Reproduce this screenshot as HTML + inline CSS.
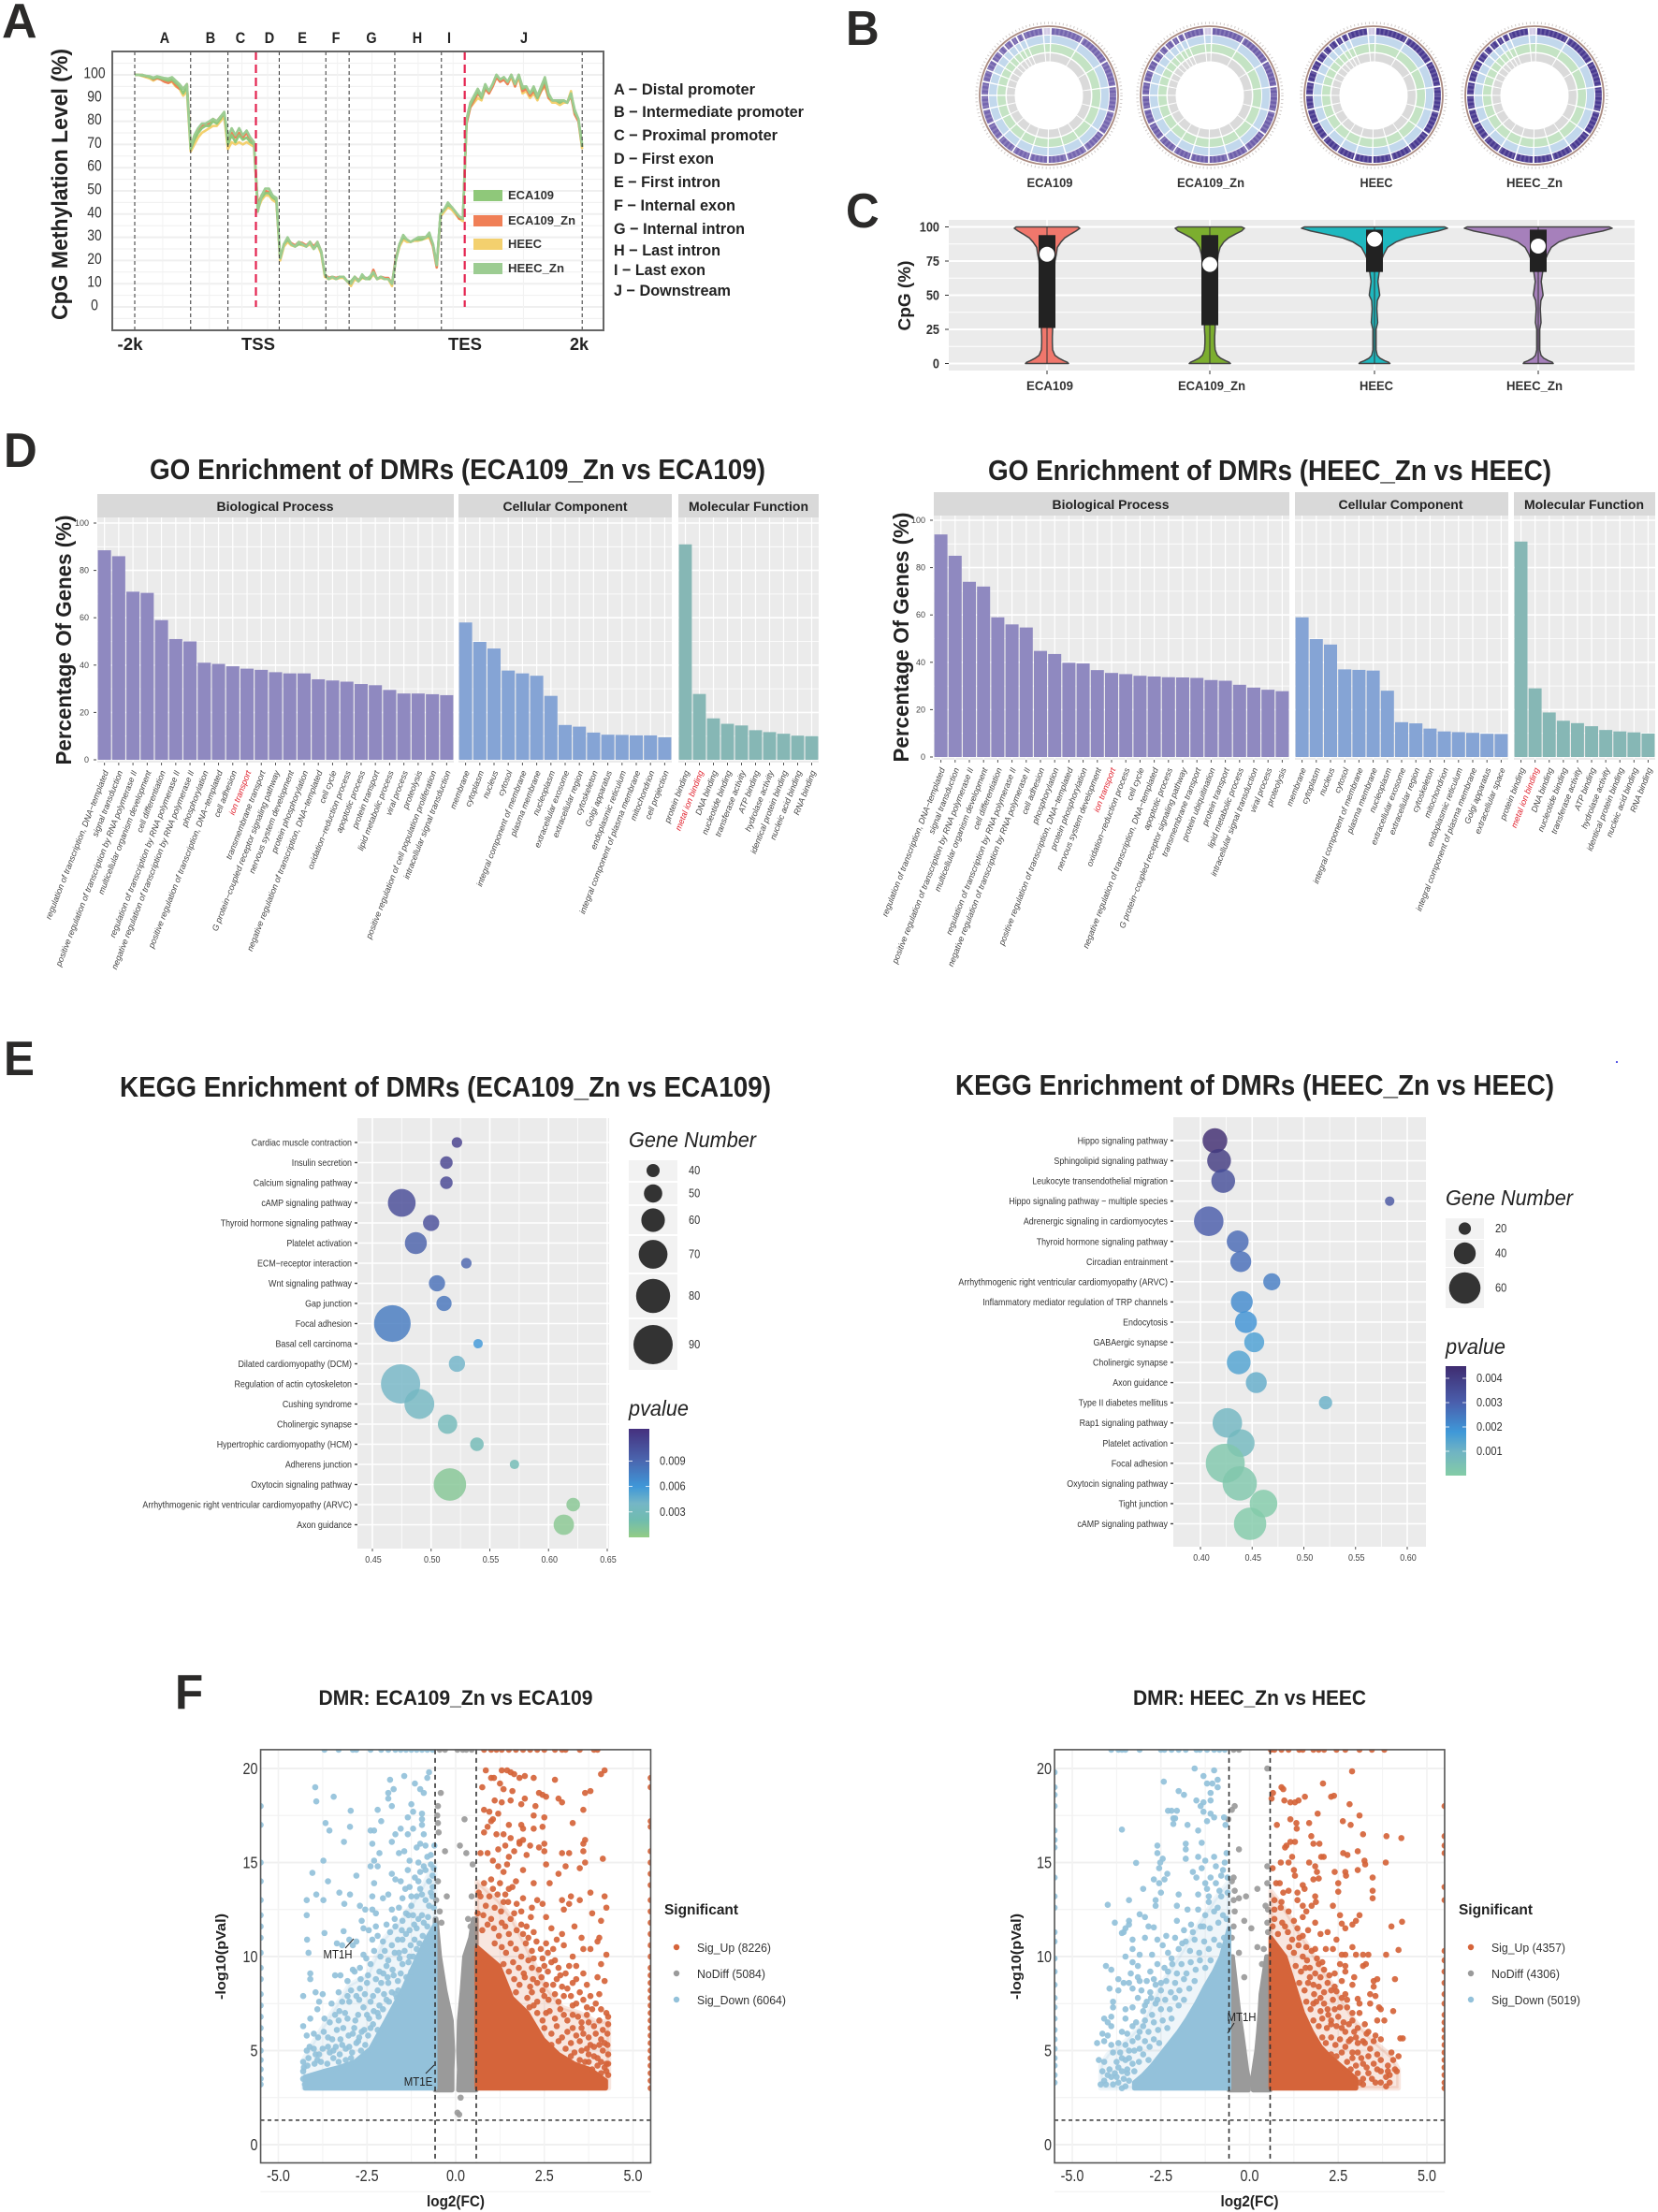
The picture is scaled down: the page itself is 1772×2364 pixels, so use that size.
<!DOCTYPE html>
<html lang="en">
<head>
<meta charset="utf-8">
<title>DNA methylation multi-panel figure</title>
<style>
html,body{margin:0;padding:0;background:#fff;}
svg{display:block;font-family:"Liberation Sans",sans-serif;}
</style>
</head>
<body>
<svg id="figure" xmlns="http://www.w3.org/2000/svg" width="1772" height="2364" viewBox="0 0 1772 2364">
<rect width="1772" height="2364" fill="#fff"/>
<defs id="defs"></defs>
<g id="panelA"></g>
<g id="panelB"></g>
<g id="panelC"></g>
<g id="panelD"></g>
<g id="panelE"></g>
<g id="panelF"></g>
</svg>
<script>
/* ---------- Panel A data ---------- */
const regionLetters=["A","B","C","D","E","F","G","H","I","J"];
const regionBoundaries=[0,15,25,32.5,38.75,51.25,57.5,69.75,82.25,88.5,120];
const regionNames=["A − Distal promoter","B − Intermediate promoter","C − Proximal promoter","D − First exon","E − First intron","F − Internal exon","G − Internal intron","H − Last intron","I − Last exon","J − Downstream"];
const methylationTicks=[0,10,20,30,40,50,60,70,80,90,100];
const seriesEca109=[100,100,99.7,99.5,99,98.3,99,98.5,98,97.5,98,96.5,95,92,95,68,72,75,77,78,78,80,79,81,84,70,74,71,74,72,73,71,70,43,47,49,49,47,46,21,27,29,27,26,27,27,26,28,25,27,24,14,12,13,12,13,13,11,11,13,11,13,12,12,15,12,13,12,12,10,20,27,30,29,28,29,29,29,30,31,27,18,40,42,44,43,41,39,38,80,87,90,93,90,95,93,96,100,98,99,97,100,96,100,94,95,92,94,90,94,98,91,89,89,88,89,88,92,84,81,69];
const seriesEca109Zn=[100,100,100,99.3,99.3,98,98.6,98,97,96.5,97.5,95.5,94,94,96,70,73,76,78,79,79,81,80,82,83,72,75,73,75,73,75,72,70,44,48,50,49.5,48,46,21,27,29,27.5,26.5,28,27.5,26.5,28,26,28,24,14,12.5,13,12.5,13,13,11,10,13,11.5,13,12.5,12,16,12,13,12.5,12.5,10,21,27,30,29,28,29,29,30,30,31,26,17,40,42,44,43,41,38,38,79,86,89,92,90,94,92,95,99,97,98,96,100,95,100,93,94,91,93,90,93,96,90,89,89,88,89,88,91,83,80,69];
const seriesHeec=[100,100,99.5,99,98.5,97.5,98.5,98,97,96.5,97,95,94,91,93,67,70,73,75,76,77,78,78,80,82,68,71,70,71,70,71,70,69,42,46,48,48,46,45,20,26,28,26.5,26,27,26.5,26,27,25,27,23,13,12,12.5,12,12.5,12.5,11,9,12,11,12.5,12,12,14,12,12.5,12,12,9,20,26,29,28,28,28.5,28.5,29,29.5,30,26,17,39,41,43,42,40,38,37,80,86,88,90,89,94,92,95,99,97,98,96,99,95,99,92,93,90,92,89,93,95,90,88,88,87,88,88,93,83,80,68];
const seriesHeecZn=[100,100,100,99.6,99.4,98.8,99.4,99,98.6,98.4,99,97.5,96,94,96,69,74,77,79,79,80,81,80,82,84,73,77,74,77,74,76,73,71,41,48,51,51,48,47,21,27,30,27,26,28,27,26,28,25,28,24,14,12,13,12,13,13,11,10,13,11,14,12,13,15,12,13,12,12,10,20,27,31,29,28,29,30,30,30,32,27,18,40,42,45,43,41,39,38,81,88,91,94,91,96,93,96,100,98,99,97,100,96,100,95,95,92,95,91,95,99,92,89,89,89,89,88,92,85,81,70];

/* ---------- Panel B data ---------- */
const circosSamples=["ECA109","ECA109_Zn","HEEC","HEEC_Zn"];
const chromosomeSizes=[249,243,198,190,181,171,159,146,141,135,135,133,115,107,102,90,81,78,59,63,48,51,155,59];
const circosTrackLevels=[0.45,0.5,0.78,0.78];

/* ---------- Panel C data ---------- */
const violinSamples=["ECA109","ECA109_Zn","HEEC","HEEC_Zn"];
const cpgTicks=[0,25,50,75,100];
const violinLevels=[100,99,97,95,92,89,85,80,75,70,60,50,46,40,30,25,20,15,10,6,4,2,1,0];
const densityEca109=[33,35,31,26,19,15,11,10,8.5,8,7.4,7,7,6.5,6.2,6,5.7,5.7,6,8.5,12.5,18,21.6,23];
const densityEca109Zn=[34,37,34,28,20,15,11,9,8,7.5,7,6.5,6.5,6,5.7,5.7,5.2,5.2,5.7,8,11.4,17,20.5,22];
const densityHeec=[75,78,68,54,34,23,14,10,7,5.7,3.6,5.6,3,2.5,3.4,1.7,1.7,1.7,1.7,3,5.7,11,15,16.5];
const densityHeecZn=[76,79,69,54,33,22,14,10,7,5.4,3.2,5.2,2.8,2.2,3,1.6,1.6,1.6,1.6,3,5.7,11,15,16];
const boxLow=[26,28,67,67];
const boxHigh=[94,94,98,98];
const medians=[80,72.5,91,86];

/* ---------- Panel D data ---------- */
const facetNames=["Biological Process","Cellular Component","Molecular Function"];
const goTicks=[0,20,40,60,80,100];
const goBpLabelsEca=["regulation of transcription, DNA−templated","signal transduction","positive regulation of transcription by RNA polymerase II","multicellular organism development","cell differentiation","regulation of transcription by RNA polymerase II","negative regulation of transcription by RNA polymerase II","phosphorylation","positive regulation of transcription, DNA−templated","cell adhesion","ion transport","transmembrane transport","G protein−coupled receptor signaling pathway","nervous system development","protein phosphorylation","negative regulation of transcription, DNA−templated","cell cycle","oxidation−reduction process","apoptotic process","protein transport","lipid metabolic process","viral process","proteolysis","positive regulation of cell population proliferation","intracellular signal transduction"];
const goBpValuesEca=[88.5,86,71,70.5,59,51,50,41,40.5,39.5,38.5,38,37,36.5,36.5,34,33.5,33,32,31.5,29.5,28,28,27.7,27.3];
const goCcLabelsEca=["membrane","cytoplasm","nucleus","cytosol","integral component of membrane","plasma membrane","nucleoplasm","extracellular exosome","extracellular region","cytoskeleton","Golgi apparatus","endoplasmic reticulum","integral component of plasma membrane","mitochondrion","cell projection"];
const goCcValuesEca=[58,49.8,47,37.7,36.5,35.5,27,14.7,14,11.5,10.6,10.5,10.3,10.3,9.5];
const goMfLabels=["protein binding","metal ion binding","DNA binding","nucleotide binding","transferase activity","ATP binding","hydrolase activity","identical protein binding","nucleic acid binding","RNA binding"];
const goMfValuesEca=[91,27.8,17.5,15.2,14.5,12.5,11.7,11,10.2,10];
const goBpLabelsHeec=["regulation of transcription, DNA−templated","signal transduction","positive regulation of transcription by RNA polymerase II","multicellular organism development","cell differentiation","regulation of transcription by RNA polymerase II","negative regulation of transcription by RNA polymerase II","cell adhesion","phosphorylation","positive regulation of transcription, DNA−templated","protein phosphorylation","nervous system development","ion transport","oxidation−reduction process","cell cycle","negative regulation of transcription, DNA−templated","apoptotic process","G protein−coupled receptor signaling pathway","transmembrane transport","protein ubiquitination","protein transport","lipid metabolic process","intracellular signal transduction","viral process","proteolysis"];
const goBpValuesHeec=[94,85,74,72,59,56,54.7,44.8,43.5,39.8,39.5,36.7,35.5,35,34.3,34,33.7,33.6,33.4,32.5,32.2,30.5,29.3,28.4,27.8];
const goCcLabelsHeec=["membrane","cytoplasm","nucleus","cytosol","integral component of membrane","plasma membrane","nucleoplasm","extracellular exosome","extracellular region","cytoskeleton","mitochondrion","endoplasmic reticulum","integral component of plasma membrane","Golgi apparatus","extracellular space"];
const goCcValuesHeec=[59,49.8,47.5,37,36.8,36.5,28,14.7,14.2,12,10.8,10.5,10.2,9.8,9.7];
const goMfValuesHeec=[91,29,18.8,15.3,14.3,13,11.4,10.8,10.4,9.9];

/* ---------- Panel E data ---------- */
const keggPathwaysEca=["Cardiac muscle contraction","Insulin secretion","Calcium signaling pathway","cAMP signaling pathway","Thyroid hormone signaling pathway","Platelet activation","ECM−receptor interaction","Wnt signaling pathway","Gap junction","Focal adhesion","Basal cell carcinoma","Dilated cardiomyopathy (DCM)","Regulation of actin cytoskeleton","Cushing syndrome","Cholinergic synapse","Hypertrophic cardiomyopathy (HCM)","Adherens junction","Oxytocin signaling pathway","Arrhythmogenic right ventricular cardiomyopathy (ARVC)","Axon guidance"];
const keggRatioEca=[0.522,0.513,0.513,0.475,0.5,0.487,0.53,0.505,0.511,0.467,0.54,0.522,0.474,0.49,0.514,0.539,0.571,0.516,0.621,0.613];
const keggGenesEca=[35,39,39,68,46,57,35,46,44,85,33,46,90,72,52,41,33,77,41,54];
const keggPvalEca=[0.0118,0.0115,0.0113,0.011,0.0108,0.0095,0.0092,0.0085,0.0082,0.0078,0.006,0.0042,0.004,0.0037,0.003,0.0027,0.0025,0.0008,0.0007,0.0006];
const keggXTicksEca=[0.45,0.5,0.55,0.6,0.65];
const geneLegendEca=[40,50,60,70,80,90];
const pvalLegendEca=[0.009,0.006,0.003];
const keggPathwaysHeec=["Hippo signaling pathway","Sphingolipid signaling pathway","Leukocyte transendothelial migration","Hippo signaling pathway − multiple species","Adrenergic signaling in cardiomyocytes","Thyroid hormone signaling pathway","Circadian entrainment","Arrhythmogenic right ventricular cardiomyopathy (ARVC)","Inflammatory mediator regulation of TRP channels","Endocytosis","GABAergic synapse","Cholinergic synapse","Axon guidance","Type II diabetes mellitus","Rap1 signaling pathway","Platelet activation","Focal adhesion","Oxytocin signaling pathway","Tight junction","cAMP signaling pathway"];
const keggRatioHeec=[0.414,0.418,0.422,0.583,0.408,0.436,0.439,0.469,0.44,0.444,0.452,0.437,0.454,0.521,0.426,0.439,0.424,0.438,0.461,0.448];
const keggGenesHeec=[46,44,44,14,56,40,38,30,40,40,36,44,38,22,56,52,76,66,52,62];
const keggPvalHeec=[0.0045,0.0041,0.0035,0.0033,0.0031,0.0028,0.0027,0.0024,0.0021,0.0019,0.0016,0.0015,0.0012,0.0011,0.0009,0.0008,0.0002,0.0002,0.0001,0.0001];
const keggXTicksHeec=[0.4,0.45,0.5,0.55,0.6];
const geneLegendHeec=[20,40,60];
const pvalLegendHeec=[0.004,0.003,0.002,0.001];
const colorValuesEca=[0,0.002,0.004,0.006,0.009,0.0128];
const colorHexEca=["#93cc85","#70bcae","#75b6c6","#3f97d8","#4a67b0","#45307e"];
const colorValuesHeec=[0,0.001,0.0018,0.003,0.0045];
const colorHexHeec=["#84cca6","#6fb3c4","#3f98d8","#4a5fad","#3f2c70"];

/* ---------- Panel F data ---------- */
const volcanoXTicks=[-5,-2.5,0,2.5,5];
const volcanoYTicks=[0,5,10,15,20];
const denseDownXEca=[-0.58,-0.8,-1.07,-1.5,-1.96,-2.4,-2.84,-3.3,-3.72,-4.25];
const denseDownTopEca=[11.7,11,10,8.2,6.6,5.1,4.4,4.1,3.9,3.6];
const semiDownXEca=[-0.58,-1,-1.5,-2,-2.5,-3,-3.5,-4,-4.3];
const semiDownTopEca=[15,13.5,12,11,9,8.5,7,5.5,4.5];
const denseUpXEca=[0.6,1.22,1.58,2.02,2.46,2.9,3.34,3.79,4.23];
const denseUpTopEca=[10.5,9.5,7.8,7,5.6,4.8,4.3,4,3.4];
const semiUpXEca=[0.6,1.2,1.6,2,2.5,3,3.5,4,4.32];
const semiUpTopEca=[14,13,12,10.5,8.5,7.3,7,6.5,6.6];
const denseGrayLevelsEca=[2.9,4,5,6.6,8.2,10,11,12];
const denseGrayLeftEca=[-0.1,-0.1,-0.08,-0.12,-0.3,-0.45,-0.5,-0.55];
const denseGrayRightEca=[0.08,0.1,0.08,0.1,0.18,0.25,0.42,0.5];
const pointsDownEca=[[-3.96,19],[-3.93,18.25],[-3.44,18.5],[-2.96,17.75],[-3.67,17.1],[-3.56,16.7],[-2.98,16.9],[-3.15,16.1],[-3.73,15.1],[-4.04,14.45],[-3.6,14],[-2.8,14.3],[-3.93,13.3],[-4.2,13],[-3.73,13],[-3.28,13.4],[-2.98,13.3],[-3.14,12.8],[-4.2,12.2],[-2.7,12.7],[-2.65,11.9],[-2.55,12.5],[-1.85,19.4],[-1.45,19.6],[-0.75,19.8],[-0.8,19.5],[-1.15,19.2],[-1.75,18.9],[-1.9,18.7],[-1.9,18.4],[-1,18.9],[-0.9,18.7],[-1.25,18.1],[-1.8,18],[-2.2,17.8],[-1.2,17.7],[-0.95,17.6],[-0.95,17.3],[-1.35,17.4],[-2.1,17.2],[-0.95,17],[-1.55,16.8],[-1.2,16.8],[-1.35,16.5],[-2.4,16.7],[-2.3,16.7],[-0.9,16.5],[-1.7,16.5],[-1.8,16.1],[-2.35,16],[-1,16],[-1.1,15.8],[-0.85,15.9],[-2.15,15.5],[-1.45,15.6],[-1.6,15.5],[-2.3,15.1],[-2.2,14.8],[-2.4,14.8],[-1.3,15.1],[-1.05,15],[-0.9,14.8],[-0.7,14.9],[-1,14.5],[-1.8,14.4],[-1.7,14.1],[-1.55,14],[-2.3,13.9],[-1.3,13.7],[-1,13.6],[-0.75,14],[-0.65,14.3],[-2.35,13.2],[-2.05,13.1],[-1.9,13.3],[-1.5,13.1],[-1.1,13.2],[-0.85,13],[-2.35,12.5],[-2.25,12.3],[-1.8,12.5],[-1.6,12.6],[-1.25,12.7],[-0.95,12.2],[-0.75,12.7],[-1.2,12.2],[-1.4,12.3],[-0.7,13.4],[-0.8,15.3],[-1.15,14.2],[-1.35,14.6],[-3.7,11.25],[-4.19,10.9],[-4.15,10.2],[-3.16,11.35],[-3.35,10.7],[-2.8,10.8],[-2.6,11.5],[-2.45,11.4],[-2.25,11.6],[-1.95,11.7],[-1.7,11.6],[-1.5,11.9],[-2.35,10.9],[-2.2,11.1],[-2,10.3],[-1.8,10.6],[-2.6,10.1],[-1.6,10.2],[-3.2,10.6],[-3,10.9],[-2.9,10.6],[-1.3,11.4],[-1.1,11.5],[-1.5,10.9],[-4.1,9.1],[-4.1,8.8],[-3.4,9],[-3.25,9],[-2.85,9.2],[-2.7,9.4],[-2.4,9.6],[-2.15,9.2],[-1.95,9.5],[-1.75,9],[-1.5,9.6],[-1.3,10],[-3.95,8.1],[-4.3,7.9],[-3.75,8],[-3.05,8.7],[-2.95,8.2],[-2.7,8.3],[-2.5,8.6],[-2.1,8.6],[-1.9,8.6],[-3.85,7.6],[-3.5,7.5],[-3.2,7.6],[-3,7.6],[-2.8,7.9],[-2.4,7.6],[-2.15,7.4],[-1.95,7.7],[-1.7,8],[-1.55,7.8],[-4.3,6.3],[-4.1,6.7],[-3.9,7.2],[-3.7,6.7],[-3.4,6.9],[-3.3,6.6],[-3.05,6.7],[-2.75,6.9],[-2.5,6.9],[-2.2,7],[-4.2,5.8],[-4,5.9],[-3.6,5.7],[-3.35,6.1],[-3.25,5.6],[-2.9,5.9],[-2.65,6],[-2.4,6.2],[-4.2,5],[-4,5.1],[-3.85,4.8],[-3.6,5.2],[-3.45,5],[-3.2,5.3],[-3,5.2],[-2.75,5.5],[-4.3,4.4],[-4.25,3.2],[-4.15,4.6],[-3.9,4.5],[-4.3,3.5]];
const fillDownEca=[[-0.62,12.6],[-0.78,12.1],[-0.9,11.8],[-1.05,12],[-1.17,11.7],[-1.33,12.2],[-1.52,11.4],[-1.72,12],[-0.66,13.2],[-0.8,11.6],[-0.93,11.1],[-1.02,10.7],[-1.16,10.9],[-1.27,10.6],[-1.4,11.2],[-1.63,10.9],[-1.85,11.3],[-2.05,10.8],[-1.1,10.4],[-1.2,10],[-1.33,9.7],[-1.44,10.3],[-1.58,9.9],[-1.72,10.2],[-1.9,9.8],[-2.12,10],[-2.3,10.3],[-2.52,9.9],[-1.25,9.2],[-1.39,8.9],[-1.55,9.1],[-1.63,8.7],[-1.78,9.3],[-1.92,8.9],[-2.04,9.1],[-2.25,8.8],[-2.47,9],[-2.68,8.8],[-2.9,9.3],[-1.62,8.2],[-1.66,7.8],[-1.8,8.1],[-1.88,7.6],[-2.02,8],[-2.2,8.2],[-2.33,7.9],[-2.56,8],[-2.72,7.7],[-3.05,7.9],[-3.3,8.1],[-2.05,7.2],[-2.17,6.8],[-2.31,7.1],[-2.44,6.7],[-2.6,7.3],[-2.83,6.6],[-3.12,7],[-3.28,7.1],[-3.55,6.5],[-2.2,6.1],[-2.33,6.4],[-2.47,5.8],[-2.58,6.1],[-2.72,5.7],[-2.86,6.2],[-3.02,5.8],[-3.17,6.2],[-3.48,5.6],[-3.72,6],[-3.88,5.7],[-2.55,5.3],[-2.67,5],[-2.8,5.4],[-2.92,4.9],[-3.1,5.1],[-3.27,4.8],[-3.38,5.2],[-3.55,4.9],[-3.75,5.1],[-3.95,4.8],[-4.12,5.2],[-2.95,4.6],[-3.1,4.5],[-3.3,4.4],[-3.45,4.6],[-3.62,4.3],[-3.8,4.4],[-3.98,4.3],[-4.18,4.2],[-4.28,4.1],[-4.3,3.9],[-0.7,15.4],[-0.85,14.6],[-1.05,14],[-1.25,13.2],[-1.42,13.6],[-0.62,14.7],[-0.6,15.9],[-0.95,13.3],[-0.65,13.7]];
const pointsUpEca=[[0.85,19.9],[1,19.5],[1.08,19.5],[1.3,19.9],[1.45,19.9],[1.55,19.8],[1.65,19.7],[1.8,19.5],[1.95,19.6],[2.2,19.5],[2.8,19.4],[4.1,19.7],[4.2,19.9],[0.75,19],[1.25,19.2],[1.35,18.9],[1.6,18.8],[1.95,18.4],[2.35,18.7],[2.45,18.6],[2.55,18.5],[2.9,18.4],[3,18.2],[3.65,18.7],[3.8,18.8],[1.1,18.3],[1.3,18.2],[1.55,18.3],[1.85,18.1],[2.25,18],[0.8,17.8],[0.95,17.7],[1.05,17.3],[1.2,17.6],[2.2,17.5],[3.6,17.8],[2.5,17.4],[3.3,17.1],[0.9,16.9],[1,17.2],[1.5,17],[1.85,17],[1.9,16.8],[2.2,16.8],[0.8,16.6],[1.15,16.5],[1.35,16.5],[1.55,16.3],[2.45,16.9],[1.8,16.1],[1.9,16.2],[2.1,15.9],[2.5,16],[3.6,16],[3.65,16.2],[0.7,15.5],[0.9,15.5],[1.05,15.1],[1.2,15.7],[1.4,15.9],[1.5,15.3],[1.65,15.6],[1.8,16],[2.35,15.8],[2.5,15.6],[3,15.5],[3.2,15.5],[3.6,15.6],[4.15,15.2],[2,15.4],[1.2,14.8],[1.35,14.5],[1.45,14.9],[1.9,14.6],[2.55,14.9],[2.9,14.4],[3.1,14.8],[3.5,14.7],[3.65,15],[0.8,13.9],[1,14.1],[1.25,13.9],[1.5,13.6],[1.7,14],[2.2,13.9],[2.65,13.9],[0.7,13.2],[1.05,13.6],[1.4,13.3],[1.6,13.7],[1.9,13.1],[2.3,13],[3,13],[3.25,13.2],[3.5,13],[3.8,13.4],[4.2,13.2],[0.85,12.7],[1.1,12.6],[1.35,12.9],[1.65,12.3],[1.85,12.4],[2.15,12.6],[2.45,12.8],[3.05,12.5],[3.2,12.8],[4.25,12.6],[3.85,12.3],[1,12],[1.3,11.8],[1.55,12],[2,11.6],[2.55,12.1],[3,11.2],[3.35,11.6],[3.55,11],[4.1,11.9],[4.05,11],[1.9,11.2],[2.2,11.3],[2.7,11.5],[2.85,10.9],[3.6,10.4],[4,10.8],[2.4,10.4],[2.6,10.2],[3.05,10.6],[3.3,10],[3.8,10.4],[4.25,10.1],[2.45,9.9],[2.8,9.8],[3.2,9.5],[3.6,9.1],[4.1,9.6],[2.15,9.4],[2.6,9.2],[2.95,9],[3.4,8.8],[4,8.9],[4.2,8.7],[2.3,8.6],[2.75,8.5],[3.15,8.3],[3.5,8.1],[3.8,7.9],[4.05,8],[2.5,7.9],[2.9,7.6],[3.3,7.4],[3.6,7.7],[3.85,7.2],[4.25,7],[4.3,6.8],[2.2,7.4],[2.65,7.1],[3.05,6.9],[3.45,6.8],[3.75,6.5],[4.15,6.1],[4.1,5.6],[4.2,5.4],[3.3,6.2],[3.6,5.9],[3.9,5.2],[4.15,5],[4.3,4.8],[3.5,5.5],[3.75,4.8],[4,4.6],[4.25,4.3],[4.2,4.1],[3.65,4.4],[3.85,4],[4.1,3.8],[4.3,3.7]];
const fillUpEca=[[0.65,13.4],[0.78,12.2],[0.95,13.2],[1.18,13.3],[1.28,12.4],[1.48,12.9],[1.72,12.8],[0.62,12.3],[0.75,11.4],[0.9,11.7],[1.08,11.5],[1.22,11.1],[1.4,11.6],[1.5,11.2],[1.72,11.4],[1.85,11.7],[2.05,11],[2.12,12.1],[1.1,10.7],[1.3,10.5],[1.42,10.2],[1.55,10.7],[1.7,10.4],[1.85,10],[1.98,10.7],[2.15,10.3],[2.28,10.8],[2.55,10.7],[2.75,10.4],[1.35,9.6],[1.5,9.2],[1.62,9.7],[1.78,9.4],[1.92,9.1],[2.05,9.8],[2.2,9.9],[2.35,9.3],[2.5,9.5],[2.7,9.7],[2.9,9.4],[3.1,9.1],[3.4,9.5],[1.65,8.8],[1.8,8.5],[1.95,8.9],[2.1,8.4],[2.18,8.8],[2.42,8.9],[2.55,8.5],[2.85,8.8],[3,8.4],[3.3,8.6],[3.7,8.5],[1.7,8.1],[2.02,7.8],[2.15,8.1],[2.3,7.6],[2.45,8.2],[2.62,7.7],[2.8,8],[3.05,7.9],[3.25,7.9],[3.4,7.5],[3.7,7.3],[3.95,7.5],[4.1,7.2],[2.08,7.3],[2.3,7],[2.45,6.6],[2.55,7],[2.8,6.7],[2.95,7.2],[3.15,6.6],[3.3,6.9],[3.55,6.5],[3.7,6.9],[3.9,6.3],[4.05,6.6],[4.3,6.4],[2.5,6.2],[2.7,5.9],[2.85,6.3],[3,5.7],[3.15,6],[3.4,5.8],[3.55,6.2],[3.75,5.7],[3.95,5.9],[3.8,5.3],[4.05,5.3],[4.28,5.9],[2.7,5.3],[2.9,5.5],[3.1,5.1],[3.25,5.4],[3.35,4.9],[3.55,5],[3.7,5.1],[3.9,4.7],[4.1,4.4],[4.28,5.3],[3.25,4.7],[3.5,4.5],[3.75,4.4],[4.3,4.3],[4,4.2],[4.25,3.9]];
const pointsGrayEca=[[-0.42,18.7],[-0.5,18],[-0.52,17.5],[-0.5,17.1],[-0.48,16.6],[-0.3,15.6],[-0.5,14],[-0.55,13],[-0.25,13.2],[-0.45,12.4],[-0.4,11.8],[-0.55,11.6],[0.25,17.3],[0.12,15.9],[0.3,15.5],[0.48,14.9],[0.45,13.2],[0.35,12],[0.42,11.6],[0.45,10.3],[0.4,9.5],[0.05,1.7],[0.1,1.6],[0.14,2.5]];
const edgeDownEca=[18,17,15,14,13,12.2,11.6,11,10.2,9.4,8.8,8,7.4,6.8,6.2,5.6,5,4.5,4,3.5,3.2];
const edgeUpEca=[19.5,19,17.2,16.9,15.6,15,14.4,13.8,13,12.4,11.8,11.2,10.6,10,9.4,9,8.6,8.2,7.8,7.4,7,6.6,6.2,5.8,5.4,5,4.6,4.2,3.8,3.4,3];
const topDownEca=[-3.7,-3.3,-2.9,-2.8,-2.4,-2.1,-1.9,-1.7,-1.55,-1.4,-1.25,-1.1,-0.95,-0.8,-0.65];
const topGrayEca=[-0.45,-0.3,0.05,0.2,0.3,0.45];
const topUpEca=[0.8,1,1.15,1.3,1.5,1.7,1.9,2.1,2.3,2.5,2.8,3,3.1,3.5,3.9,4];
const denseDownXHeec=[-0.58,-0.8,-1,-1.25,-1.5,-1.75,-2,-2.25,-2.5,-2.75,-3,-3.25];
const denseDownTopHeec=[11.5,10,9.2,8.4,7.5,6.7,6,5.4,4.8,4.2,3.7,3.3];
const semiDownXHeec=[-0.58,-1,-1.5,-2,-2.5,-3,-3.5,-4,-4.2];
const semiDownTopHeec=[14,13,11.5,10,8.5,6.5,5.5,4.8,4.2];
const denseUpXHeec=[0.6,0.8,1,1.25,1.5,1.75,2,2.25,2.5,2.75,3];
const denseUpTopHeec=[11,10.5,10,8.5,7,6,5.2,4.7,4.3,3.9,3.5];
const semiUpXHeec=[0.6,1,1.5,2,2.5,3,3.5,4,4.2];
const semiUpTopHeec=[13.5,12.5,11,9.5,8,6.5,5.5,4.7,4];
const denseGrayLevelsHeec=[2.9,3.5,4,5,6,7,8,10];
const denseGrayLeftHeec=[-0.03,-0.03,-0.08,-0.15,-0.22,-0.3,-0.36,-0.48];
const denseGrayRightHeec=[0.1,0.08,0.12,0.2,0.25,0.29,0.32,0.48];
const pointsDownHeec=[[-1.55,20],[-1,19.9],[-1.3,19.6],[-2.42,19.3],[-0.9,19.4],[-1.2,19.2],[-1.05,19.2],[-0.9,19],[-1.1,18.7],[-2,18.8],[-1.85,18.6],[-1.5,18.3],[-1.3,18.2],[-1.1,18.3],[-1.38,18],[-2.3,17.75],[-2.2,17.75],[-2.05,17.75],[-1.3,17.7],[-1.1,17.6],[-1.2,17.2],[-1,17.4],[-0.72,17.4],[-0.68,17],[-2.15,17.35],[-2.1,17.35],[-2.15,17.05],[-1.75,17],[-1.45,16.7],[-3.6,16.75],[-1.8,15.2],[-2.6,15.9],[-2.6,15.5],[-2.45,15.2],[-2.52,15],[-1.8,15.7],[-1.8,16],[-1.35,16.05],[-1.45,15.3],[-1.25,15.1],[-1,15.3],[-1.35,14.7],[-0.95,14.8],[-3.2,14.98],[-2.55,14.7],[-2.32,14.4],[-1.6,14.5],[-1.5,14.2],[-1.1,14.2],[-0.8,14.3],[-0.75,14.6],[-2.7,14.1],[-2.55,13.9],[-2.4,14.1],[-1.25,13.9],[-0.95,13.9],[-3,13.6],[-2.5,13.4],[-2,13.3],[-1.45,13.3],[-1.15,13.2],[-0.8,13.2],[-3.4,13],[-2.65,13],[-4,12.75],[-2.65,12.7],[-2.05,12.7],[-1.75,12.5],[-1.45,12.5],[-0.9,12.6],[-3.1,12.25],[-2.95,12.1],[-3.5,11.5],[-3.4,11.9],[-3.4,11.7],[-3.8,11.8],[-2.85,11.6],[-2.7,11.55],[-2.05,11.9],[-1.85,11.4],[-1.65,11.7],[-1.3,11.6],[-3.6,11.25],[-3.55,11.3],[-3.3,10.9],[-2.95,11],[-2.6,10.9],[-2.35,11.1],[-2.1,11],[-1.8,10.8],[-3.3,10.4],[-2.45,10.6],[-3.5,10],[-3.1,10.1],[-2.75,10.1],[-2.3,10.2],[-2,10.4],[-4.05,9.5],[-3.9,9.3],[-3.3,9.7],[-3.15,9.5],[-2.8,9.2],[-2.6,9.6],[-2.3,9.2],[-3.35,9.1],[-3.15,8.9],[-3.7,8.8],[-3.55,8.6],[-3.4,8.6],[-3.1,8.7],[-2.9,8.7],[-2.65,8.5],[-3.95,8.3],[-3.7,8.2],[-3.3,8.3],[-3.05,8.2],[-2.8,8.1],[-2.5,8.2],[-3.85,7.6],[-3.85,7.3],[-3.5,7.2],[-3.15,7.8],[-2.9,7.6],[-2.6,7.7],[-3.3,7.3],[-3,7.1],[-2.75,6.9],[-4,6.5],[-3.9,6.8],[-4.1,6.7],[-3.9,6.3],[-3.5,6.7],[-3.2,6.5],[-2.95,6.6],[-4.15,5.9],[-4,5.8],[-3.6,6],[-3.45,5.9],[-3.1,6],[-4.3,5.4],[-4.1,5.5],[-3.9,5.3],[-3.7,5.4],[-3.5,5.3],[-3.3,5.5],[-3.85,4.9],[-3.65,4.9],[-3.4,5],[-4.25,4.5],[-4.1,4.4],[-3.75,4.4],[-3.5,4.5],[-4.15,3.9],[-3.95,4],[-3.7,4.1],[-3.45,4],[-4.1,3.4],[-3.9,3.6],[-3.7,3.3],[-3.55,3.5],[-4.05,3.2],[-3.85,3.2],[-3.6,3]];
const fillDownHeec=[[-0.62,13.4],[-0.75,12.2],[-0.88,11.8],[-1,12.4],[-1.12,11.5],[-1.25,12.2],[-1.38,11.6],[-0.65,12],[-0.72,11],[-0.85,10.6],[-1,10.9],[-1.15,10.4],[-1.28,10.8],[-1.42,10.2],[-1.55,10.9],[-1.68,10.3],[-1.9,10.7],[-1.1,9.8],[-1.25,9.4],[-1.4,9.8],[-1.52,9.3],[-1.66,9.7],[-1.78,9.1],[-1.92,9.6],[-2.05,9.1],[-2.18,9.6],[-2.4,9.4],[-1.55,8.7],[-1.7,8.3],[-1.85,8.8],[-1.98,8.2],[-2.1,8.6],[-2.22,8.1],[-2.35,8.7],[-2.5,8.6],[-2.7,8.8],[-1.85,7.7],[-2,7.4],[-2.1,7.8],[-2.25,7.2],[-2.38,7.7],[-2.5,7.2],[-2.65,7.5],[-2.78,7.8],[-2.95,7.4],[-2.2,6.7],[-2.32,6.2],[-2.45,6.6],[-2.58,6.1],[-2.7,6.5],[-2.85,6],[-3,6.3],[-3.15,5.7],[-3.3,6.3],[-2.55,5.4],[-2.7,5.6],[-2.82,5.2],[-2.95,5.5],[-3.1,5.1],[-3.25,5],[-3.4,4.6],[-3.6,4.6],[-2.85,4.5],[-3,4.8],[-3.12,4.4],[-3.3,4.3],[-3.45,3.8],[-3.6,3.9],[-3.8,3.8],[-3.25,3.9],[-3.4,3.4],[-3.5,3.1],[-3.75,3.6],[-4,3.7],[-4.2,3.2],[-0.62,14.2],[-0.7,15],[-0.65,15.5],[-0.85,13.5],[-1.15,12.9],[-1.6,11.3],[-1.2,13.6],[-2.2,9.9]];
const pointsUpHeec=[[2.89,19.85],[2.07,19.2],[0.9,19],[0.95,18.9],[0.66,18.7],[1.56,18.5],[2.3,18.5],[2.38,18.55],[2.82,18.1],[0.98,18.3],[1.15,18.2],[1.28,18.2],[1.38,18.3],[0.62,18.4],[3.1,17.5],[1.92,17.6],[2.63,17.2],[2.85,17],[0.77,17],[1.15,17.3],[1.32,17.1],[1.68,17.1],[1.33,16.8],[3.2,16.5],[3.86,16.4],[4.28,16.3],[1.74,16.4],[1.28,16.1],[1.04,15.9],[1.15,16.1],[1.8,16],[1.97,16],[1,15.8],[3.05,15.6],[2.09,15.3],[2.02,15.3],[2.64,15.5],[2.76,15.4],[1.2,15.3],[0.88,15],[1.1,15],[1.68,15],[1.85,14.8],[3.24,15.1],[3.26,14.9],[3.84,15],[0.65,14.7],[1.25,14.6],[1.9,14.5],[2.4,14.5],[2.7,14.5],[2.72,14.3],[3.05,14.6],[1.28,14.3],[3.47,14.2],[1.8,14.1],[1.95,14.15],[0.75,13.9],[0.85,13.9],[1.1,13.5],[1.5,13.8],[1.55,13.6],[1.35,13.4],[0.95,13.4],[2.5,13.9],[2.5,13.45],[3.47,13.5],[3.47,13.1],[0.7,13],[0.9,12.9],[1.35,13],[1.85,13.2],[1.87,12.9],[2.35,12.7],[1.5,12.7],[0.7,12.5],[0.88,12.6],[1.1,12.4],[1.6,12.4],[1.75,12.7],[1.5,12.1],[2.55,12.2],[3.1,12.2],[3,11.9],[2.6,11.75],[2.7,11.5],[2.9,11.7],[4.3,11.85],[4,11.6],[1,11.6],[1.25,11.9],[1.85,11.8],[2,11.2],[2.2,11.3],[2.35,10.4],[2.45,10.9],[2.9,10.5],[4.2,10.35],[1.4,11],[1.6,10.5],[1.85,10.4],[2.15,10.4],[2.6,10.1],[2.7,10.1],[3,10.1],[3.2,10.1],[3.35,10.1],[3.85,10.1],[2.05,9.7],[2.55,9.6],[2.7,9.5],[3.2,9.5],[3.28,9.6],[1.7,9.4],[2,8.9],[2.4,9.1],[2.7,9.2],[2.95,8.9],[1.8,8.5],[2.2,8.6],[2.6,8.7],[2.9,8.5],[3.5,8.7],[3.6,8.8],[4.1,8.8],[3.5,8.4],[2.3,8.2],[2.45,8.15],[2.7,8],[3.4,8],[3.55,7.9],[2,7.8],[2.35,7.7],[2.75,7.7],[3.05,7.75],[3.1,7.5],[3.4,7.5],[1.8,7.5],[2.2,7.2],[2.55,7.3],[3.65,7.3],[3.7,7.2],[4.05,7.1],[2.9,7],[3.1,7],[2.5,6.8],[2.3,6.6],[2.8,6.4],[3.05,6.2],[3.25,6.4],[3.6,6.6],[3.8,6.6],[2.6,6.2],[2.95,6],[3.3,5.9],[3.55,5.8],[3.7,5.6],[4.25,5.65],[4.32,5.65],[2.85,5.6],[3.05,5.4],[3.25,5.4],[3.5,5.5],[3.4,5.1],[3.6,4.8],[4,4.9],[4.05,4.5],[4.2,4.7],[2.9,4.9],[3.15,4.6],[3.7,4.5],[3.9,4.2],[3,4.2],[3.3,4.1],[3.6,4],[3.9,3.9],[4.1,4],[3.2,3.5],[3.45,3.5],[3.85,3.6],[3.95,3.3]];
const fillUpHeec=[[0.65,11.6],[0.8,11.2],[0.92,11.8],[1.08,11.3],[1.2,10.9],[1.35,11.5],[1.5,11.1],[1.65,11.4],[0.7,12],[1.12,10.5],[1.25,10.2],[1.38,10.6],[1.5,10],[1.62,9.8],[1.75,10.3],[1.9,9.9],[1.3,9.5],[1.45,9.2],[1.58,9.4],[1.7,8.9],[1.85,9.1],[1.95,9.6],[2.1,9.3],[2.25,9],[1.4,8.6],[1.55,8.2],[1.65,8.6],[1.82,8],[1.95,8.4],[2.1,8.1],[2.4,8.4],[1.6,7.6],[1.72,7.2],[1.88,7.6],[2,7.1],[2.1,7.5],[2.22,6.9],[2.4,7.2],[2.6,7.8],[2.75,7.3],[1.8,6.6],[1.95,6.3],[2.05,6.7],[2.18,6.2],[2.3,6.4],[2.45,6.3],[2.65,6.5],[2.7,6],[2.9,6.6],[2.05,5.7],[2.15,5.4],[2.3,5.7],[2.42,5.3],[2.55,5.6],[2.7,5.2],[2.8,5.5],[3,5.7],[3.2,5.5],[3.35,6],[2.3,4.8],[2.45,4.7],[2.6,4.9],[2.75,4.4],[2.9,4.6],[3.05,4.9],[3.2,4.3],[3.35,4.7],[3.5,4.3],[3.7,3.9],[2.85,4],[3.05,3.8],[3.2,3.2],[3.35,3.8],[3.55,3.3],[3.7,3.3],[3.1,3.3],[3.85,3.1],[3.95,3.7],[4.15,3.9]];
const pointsGrayHeec=[[-0.42,18],[-0.5,17.8],[-0.6,17.3],[-0.3,15.7],[-0.45,14.2],[-0.5,14],[-0.42,13.5],[-0.45,13],[-0.3,13.1],[-0.1,13.2],[-0.42,12.4],[-0.15,11.9],[0.22,13.6],[0.5,13.9],[0.45,12.7],[0.52,12.5],[0.5,11.8],[0.52,11.3],[0.05,11.5],[-0.45,11.6],[-0.5,11],[0.22,10.5],[0.4,10.4],[-0.3,10.2],[0.35,9.6],[-0.15,8.9],[0.5,14.8],[0.5,20]];
const edgeDownHeec=[19.8,19,18.6,18,16.7,16.2,15.8,14.2,13.2,12.6,11.3,10.8,9.9,9.2,8.5,7.8,7.3,6.7,6.1,5.6,5.1,4.6,4.2,3.7,3.3];
const edgeUpHeec=[18,16.4,15.9,15.5,13.7,13,10.3,9.8,9.2,8.6,8,7.5,6.9,6.5,6.1,5.7,5.3,4.9,4.5,4.1,3.7,3.3,3];
const topDownHeec=[-3.9,-3.7,-3.6,-3.5,-3.1,-2.5,-2.4,-2.2,-2,-1.8,-1.5,-1.4,-1.2,-1,-0.85,-0.7];
const topGrayHeec=[-0.45,-0.3];
const topUpHeec=[0.6,0.7,0.9,1.1,1.4,1.5,1.8,1.95,2.1,2.45,2.7,3.1,3.45,3.8];

/* ---------- Helpers ---------- */
const NS="http://www.w3.org/2000/svg";
const $=id=>document.getElementById(id);
function el(tag,name,attrs,parent){
  const e=document.createElementNS(NS,tag);
  for(const k in attrs)e.setAttribute(k,attrs[k]);
  
  
  parent.appendChild(e);
  return e;
}
function txt(parent,name,s,x,y,o){
  o=o||{};
  const a={fill:o.fill||"#222","font-size":o.size||12,"text-anchor":o.anchor||"start"};
  if(o.weight)a["font-weight"]=o.weight;
  if(o.style)a["font-style"]=o.style;
  if(o.len){a.textLength=o.len;a.lengthAdjust="spacingAndGlyphs";}
  a.transform="translate("+x+" "+y+")"+(o.rot?" rotate("+o.rot+")":"")+(o.sx?" scale("+o.sx+" 1)":"");
  const t=el("text",name,a,parent);
  t.textContent=s;
  return t;
}
const slug=s=>String(s).toLowerCase().replace(/[^a-z0-9]+/g,"-").replace(/^-|-$/g,"");
function line(p,name,x1,y1,x2,y2,stroke,w,dash){
  const a={x1:x1,y1:y1,x2:x2,y2:y2,stroke:stroke,"stroke-width":w};
  if(dash)a["stroke-dasharray"]=dash;
  return el("line",name,a,p);
}
function panelLetter(p,s,x,y,sx){
  txt(p,"panel-label-"+s.toLowerCase(),s,x,y,{size:52,weight:"bold",fill:"#2b2a29",sx:sx||1});
}

/* ---------- Panel A ---------- */
(function(){
  const p=$("panelA");
  panelLetter(p,"A",2,40,1);
  const L=120,R=645,T=55,B=353;
  const xA=i=>144+i*3.985, yA=v=>328-2.48*v;
  el("rect","plot-background",{x:L,y:T,width:R-L,height:B-T,fill:"#fff"},p);
  for(let v=-10;v<=110;v+=5)line(p,"gridline-y",L,yA(v),R,yA(v),"#efefef",v%10===0?2:1);
  regionBoundaries.forEach((b,i)=>{
    if(i<regionBoundaries.length-1){
      const m=xA((b+regionBoundaries[i+1])/2);
      line(p,"gridline-x",m,T,m,B,"#f2f2f2",1);
    }
  });
  [[seriesHeec,"#f3d06e","heec"],[seriesEca109Zn,"#f07f56","eca109-zn"],[seriesEca109,"#8fc87a","eca109"],[seriesHeecZn,"#9ccc92","heec-zn"]].forEach(s=>{
    el("polyline","line-"+s[2],{points:s[0].map((v,i)=>xA(i)+","+yA(v)).join(" "),fill:"none",stroke:s[1],"stroke-width":2.6,"stroke-linejoin":"round"},p);
  });
  regionBoundaries.forEach((b,i)=>{
    if(i===3||i===9)line(p,"boundary-tss-tes",xA(b),T,xA(b),yA(0),"#e4234f",2.2,"9 5");
    else line(p,"region-boundary",xA(b),T,xA(b),B,"#333",1,"4 3");
  });
  el("rect","plot-frame",{x:L,y:T,width:R-L,height:B-T,fill:"none",stroke:"#666","stroke-width":2},p);
  methylationTicks.forEach(v=>txt(p,"y-tick-"+v,String(v),101,yA(v)+3.5,{size:17,anchor:"middle",fill:"#333",sx:.82}));
  txt(p,"y-axis-title","CpG Methylation Level (%)",72,197,{size:24,weight:"bold",anchor:"middle",rot:-90,len:290});
  regionLetters.forEach((s,i)=>{
    const c=[176,225,257,288,323,359,397,446,480,560][i];
    txt(p,"region-letter-"+s.toLowerCase(),s,c,46,{size:17,weight:"bold",anchor:"middle",fill:"#222",sx:.85});
  });
  const legendY=[95,119,144,169,194,219,244,267,288,310], legendW=[151,203,175,107,114,130,140,114,98,125];
  regionNames.forEach((s,i)=>txt(p,"region-key-"+regionLetters[i].toLowerCase(),s,656,legendY[i]+6,{size:17,weight:"bold",len:legendW[i]}));
  [["ECA109","#8fc87a",209,49],["ECA109_Zn","#f07f56",236,72],["HEEC","#f3d06e",261,36],["HEEC_Zn","#9ccc92",287,60]].forEach(r=>{
    el("rect","legend-swatch-"+slug(r[0]),{x:506,y:r[2]-6,width:31,height:12,fill:r[1]},p);
    txt(p,"legend-label-"+slug(r[0]),r[0],543,r[2]+4,{size:13,weight:"bold",fill:"#333",len:r[3]});
  });
  [["-2k",139,27],["TSS",276,36],["TES",497,36],["2k",619,20]].forEach(r=>txt(p,"x-tick-"+slug(r[0]),r[0],r[1],374,{size:18,weight:"bold",anchor:"middle",len:r[2]}));
})();

/* ---------- Panel B ---------- */
function arc(cx,cy,r0,r1,a0,a1){
  const pt=(r,a)=>(cx+r*Math.sin(a)).toFixed(1)+" "+(cy-r*Math.cos(a)).toFixed(1);
  const large=(a1-a0)>Math.PI?1:0;
  return "M"+pt(r1,a0)+"A"+r1+" "+r1+" 0 "+large+" 1 "+pt(r1,a1)+"L"+pt(r0,a1)+"A"+r0+" "+r0+" 0 "+large+" 0 "+pt(r0,a0)+"Z";
}
(function(){
  const p=$("panelB");
  panelLetter(p,"B",904,48,.95);
  const centers=[1121,1293,1468,1640], labelX=[1122,1294,1471,1640], labelW=[49,72,35,60];
  const total=chromosomeSizes.reduce((a,b)=>a+b,0);
  const angle=pos=>(pos/total)*2*Math.PI+0.03;
  circosSamples.forEach((s,si)=>{
    const g=el("g","circos-"+slug(s),{},p), cx=centers[si], cy=102;
    el("circle","outer-tick-ring",{cx:cx,cy:cy,r:77.5,fill:"none",stroke:"#cfcac8","stroke-width":2.5,"stroke-dasharray":"1 3"},g);
    el("circle","karyotype-ring",{cx:cx,cy:cy,r:74,fill:"none",stroke:"#a98a80","stroke-width":1.8},g);
    const dark=circosTrackLevels[si];
    const purple="rgb("+Math.round(175-dark*130)+","+Math.round(160-dark*130)+","+Math.round(215-dark*90)+")";
    let pos=0;
    chromosomeSizes.forEach((c,ci)=>{
      const a0=angle(pos)+.012,a1=angle(pos+c)-.012;
      el("path","track-purple",{d:arc(cx,cy,65,72,a0,a1),fill:ci===chromosomeSizes.length-1?"#d3cce6":purple},g);
      el("path","track-blue",{d:arc(cx,cy,56,64,a0,a1),fill:"#c2d8ec"},g);
      el("path","track-green",{d:arc(cx,cy,46.5,55,a0,a1),fill:"#c4e3c4"},g);
      el("path","track-gray",{d:arc(cx,cy,36.5,45,a0,a1),fill:"#dadada"},g);
      pos+=c;
    });
    el("circle","purple-track-texture",{cx:cx,cy:cy,r:68.5,fill:"none",stroke:"#fff","stroke-opacity":.16,"stroke-width":7,"stroke-dasharray":"2 2.5"},g);
    txt(p,"circos-label-"+slug(s),s,labelX[si],200,{size:14,weight:"bold",anchor:"middle",fill:"#333",len:labelW[si]});
  });
})();

/* ---------- Panel C ---------- */
(function(){
  const p=$("panelC");
  panelLetter(p,"C",904,243,.95);
  const L=1014,R=1747,T=235,B=396;
  const yC=v=>388.5-1.46*v;
  const xC=[1119,1293,1469,1644];
  const dens=[densityEca109,densityEca109Zn,densityHeec,densityHeecZn];
  const fills=["#f0776c","#7cae2f","#1fb8bf","#a680bb"];
  const labelX=[1122,1295,1471,1640], labelW=[50,72,36,60];
  el("rect","plot-background",{x:L,y:T,width:R-L,height:B-T,fill:"#ebebeb"},p);
  for(let v=0;v<=100;v+=12.5)line(p,"gridline-y",L,yC(v),R,yC(v),"#fff",v%25===0?2:1);
  xC.forEach(x=>line(p,"gridline-x",x,T,x,B,"#fff",1.5));
  violinSamples.forEach((s,i)=>{
    const g=el("g","violin-"+slug(s),{},p), x=xC[i], d=dens[i];
    const right=violinLevels.map((v,k)=>(x+d[k])+","+yC(v));
    const left=violinLevels.map((v,k)=>(x-d[k])+","+yC(v)).reverse();
    el("polygon","violin-body",{points:right.concat(left).join(" "),fill:fills[i],stroke:"#444","stroke-width":1.5,"stroke-linejoin":"round"},g);
    line(g,"violin-stem",x,yC(100),x,yC(0),"#333",1);
    el("rect","violin-box",{x:x-9,y:yC(boxHigh[i]),width:18,height:yC(boxLow[i])-yC(boxHigh[i]),fill:"#222"},g);
    el("circle","violin-median",{cx:x,cy:yC(medians[i]),r:8,fill:"#fff"},g);
    line(p,"x-tick",x,B,x,B+4,"#333",1);
    txt(p,"x-label-"+slug(s),s,labelX[i],417,{size:14,weight:"bold",anchor:"middle",fill:"#333",len:labelW[i]});
  });
  cpgTicks.forEach(v=>{
    txt(p,"y-tick-"+v,String(v),1004,yC(v)+5,{size:15,anchor:"end",fill:"#333",sx:.85,weight:"bold"});
    line(p,"y-tick-mark",1010,yC(v),1014,yC(v),"#333",1);
  });
  txt(p,"y-axis-title","CpG (%)",973,316,{size:18,weight:"bold",anchor:"middle",rot:-90,len:75});
})();

/* ---------- Panel D ---------- */
function goPanel(g,c){
  const yD=v=>c.y0-2.53*v;
  const colors=["#8f89c0","#85a4d5","#86b7b5"];
  const top=c.stripBottom, bottom=c.y0+3;
  goTicks.forEach(v=>{
    txt(g,"y-tick-"+v,String(v),c.facets[0][0]-9,yD(v)+3,{size:9,anchor:"end",fill:"#444"});
    line(g,"y-tick-mark",c.facets[0][0]-4,yD(v),c.facets[0][0]-1,yD(v),"#444",1);
  });
  c.facets.forEach((f,fi)=>{
    const x0=f[0],x1=f[1],vals=c.values[fi],labs=c.labels[fi],pitch=(x1-x0)/vals.length;
    const fg=el("g","facet-"+slug(facetNames[fi]),{},g);
    el("rect","facet-strip",{x:x0,y:top-25,width:x1-x0,height:25,fill:"#d9d9d9"},fg);
    txt(fg,"facet-title",facetNames[fi],c.stripX[fi],top-7,{size:13.5,weight:"bold",anchor:"middle",fill:"#222",len:[125,133,128][fi]});
    el("rect","facet-background",{x:x0,y:top,width:x1-x0,height:bottom-top,fill:"#ebebeb"},fg);
    for(let v=0;v<=100;v+=10)line(fg,"gridline-y",x0,yD(v),x1,yD(v),"#fff",v%20===0?1.6:.8);
    vals.forEach((v,i)=>{
      const xc=x0+pitch*(i+.5);
      line(fg,"gridline-x",xc,top,xc,bottom,"#fff",1.2);
    });
    vals.forEach((v,i)=>{
      const xc=x0+pitch*(i+.5);
      el("rect","bar-"+slug(labs[i]),{x:xc-pitch/2+.6,y:yD(v),width:pitch-1.2,height:c.y0-yD(v),fill:colors[fi]},fg);
      line(fg,"x-tick",xc,bottom,xc,bottom+3,"#555",1);
      const red=(labs[i]==="ion transport"||labs[i]==="metal ion binding");
      txt(fg,"x-label-"+slug(labs[i]),labs[i],xc+4.5,bottom+10,{size:9,anchor:"end",style:"italic",fill:red?"#e0202c":"#444",rot:-68.6});
    });
  });
  txt(g,"y-axis-title","Percentage Of Genes (%)",c.titleX,c.titleY,{size:23,weight:"bold",anchor:"middle",rot:-90,len:267});
  txt(g,"chart-title",c.title,c.tx,c.ty,{size:31,weight:"bold",anchor:"middle",len:c.tw});
}
(function(){
  const p=$("panelD");
  panelLetter(p,"D",4,499,.95);
  goPanel(el("g","go-chart-eca109",{},p),{
    title:"GO Enrichment of DMRs (ECA109_Zn vs ECA109)",tx:489,ty:512,tw:658,
    facets:[[104,485],[490,718],[725,875]],stripX:[294,604,800],stripBottom:553,y0:812,titleX:76,titleY:684,
    values:[goBpValuesEca,goCcValuesEca,goMfValuesEca],labels:[goBpLabelsEca,goCcLabelsEca,goMfLabels]});
  goPanel(el("g","go-chart-heec",{},p),{
    title:"GO Enrichment of DMRs (HEEC_Zn vs HEEC)",tx:1357,ty:513,tw:602,
    facets:[[998,1378],[1384,1612],[1618,1769]],stripX:[1187,1497,1693],stripBottom:551,y0:809,titleX:971,titleY:681,
    values:[goBpValuesHeec,goCcValuesHeec,goMfValuesHeec],labels:[goBpLabelsHeec,goCcLabelsHeec,goMfLabels]});
})();

/* ---------- Panel E ---------- */
function hexRgb(h){return [1,3,5].map(i=>parseInt(h.substr(i,2),16));}
function colorScale(vals,hex){
  return v=>{
    let i=0;
    while(i<vals.length-2&&v>vals[i+1])i++;
    const t=Math.min(1,Math.max(0,(v-vals[i])/(vals[i+1]-vals[i])));
    const a=hexRgb(hex[i]),b=hexRgb(hex[i+1]);
    return "rgb("+a.map((c,k)=>Math.round(c+(b[k]-c)*t)).join(",")+")";
  };
}
function keggPanel(g,c){
  const xE=v=>c.x45+(v-c.xRef)*c.xUnit, yE=i=>c.row0+i*c.rowH;
  const colour=colorScale(c.cv,c.ch);
  el("rect","plot-background",{x:c.L,y:c.T,width:c.R-c.L,height:c.B-c.T,fill:"#ebebeb"},g);
  c.xt.forEach((t,i)=>{
    line(g,"gridline-x",xE(t),c.T,xE(t),c.B,"#fff",1.6);
    if(i<c.xt.length-1)line(g,"gridline-x-minor",xE(t+.025),c.T,xE(t+.025),c.B,"#fff",.8);
    line(g,"x-tick",xE(t),c.B,xE(t),c.B+3,"#555",1);
    txt(g,"x-tick-label-"+t.toFixed(2),t.toFixed(2),xE(t)+1,c.B+15,{size:10,anchor:"middle",fill:"#444",sx:.9});
  });
  c.names.forEach((n,i)=>{
    line(g,"gridline-y",c.L,yE(i),c.R,yE(i),"#fff",1.6);
    line(g,"y-tick",c.L-3,yE(i),c.L,yE(i),"#444",1.4);
    txt(g,"y-label-"+slug(n),n,c.L-6,yE(i)+3.5,{size:10,anchor:"end",fill:"#333",sx:.89});
  });
  c.names.forEach((n,i)=>{
    el("circle","bubble-"+slug(n),{cx:xE(c.ratio[i]),cy:yE(i),r:c.rs(c.genes[i]),fill:colour(c.pv[i]),"fill-opacity":.82},g);
  });
  txt(g,"chart-title",c.title,c.tx,c.ty,{size:31,weight:"bold",anchor:"middle",len:c.tw});
  txt(g,"legend-title-gene-number","Gene Number",c.lx,c.gty,{size:23,style:"italic",fill:"#222",len:136});
  c.gl.forEach((v,i)=>{
    el("rect","size-key-background",{x:c.lx,y:c.gBox[i][0],width:c.gw,height:c.gBox[i][1]-c.gBox[i][0],fill:"#f2f2f2"},g);
    const cy=(c.gBox[i][0]+c.gBox[i][1])/2;
    el("circle","size-key-"+v,{cx:c.lx+c.gw/2,cy:cy,r:c.rs(v),fill:"#333"},g);
    txt(g,"size-label-"+v,String(v),c.lx+c.gw+12,cy+4,{size:13,fill:"#333",sx:.85});
  });
  txt(g,"legend-title-pvalue","pvalue",c.lx,c.pty,{size:23,style:"italic",fill:"#222",len:64});
  const gid="grad"+c.id;
  const lg=el("linearGradient","colorbar-gradient",{id:gid,x1:0,y1:1,x2:0,y2:0},$("defs"));
  c.cv.forEach((v,i)=>el("stop","gradient-stop",{offset:Math.min(1,v/c.pmax),"stop-color":c.ch[i]},lg));
  el("rect","pvalue-colorbar",{x:c.lx,y:c.barT,width:22,height:c.barB-c.barT,fill:"url(#"+gid+")"},g);
  c.pl.forEach(v=>{
    const y=c.barB-(v/c.pmax)*(c.barB-c.barT);
    line(g,"colorbar-tick",c.lx,y,c.lx+4,y,"#fff",.8);
    line(g,"colorbar-tick",c.lx+18,y,c.lx+22,y,"#fff",.8);
    txt(g,"colorbar-label-"+v,v.toFixed(3),c.lx+33,y+4,{size:13,fill:"#333",sx:.85});
  });
}
(function(){
  const p=$("panelE");
  panelLetter(p,"E",4,1149,.95);
  keggPanel(el("g","kegg-chart-eca109",{},p),{id:"E1",title:"KEGG Enrichment of DMRs (ECA109_Zn vs ECA109)",tx:476,ty:1172,tw:696,
    L:382,R:651,T:1195,B:1655,x45:398,xRef:.45,xUnit:1255,row0:1221,rowH:21.5,
    names:keggPathwaysEca,ratio:keggRatioEca,genes:keggGenesEca,pv:keggPvalEca,xt:keggXTicksEca,
    rs:v=>.28*v-4.2,cv:colorValuesEca,ch:colorHexEca,
    lx:672,gw:52,gty:1226,pty:1513,gl:geneLegendEca,gBox:[[1240,1262],[1264,1287],[1289,1319],[1321,1360],[1362,1408],[1410,1464]],
    barT:1527,barB:1643,pmax:0.0128,pl:pvalLegendEca});
  keggPanel(el("g","kegg-chart-heec",{},p),{id:"E2",title:"KEGG Enrichment of DMRs (HEEC_Zn vs HEEC)",tx:1341,ty:1170,tw:640,
    L:1254,R:1524,T:1194,B:1653,x45:1283,xRef:.4,xUnit:1105,row0:1219,rowH:21.55,
    names:keggPathwaysHeec,ratio:keggRatioHeec,genes:keggGenesHeec,pv:keggPvalHeec,xt:keggXTicksHeec,
    rs:v=>1.5+.255*v,cv:colorValuesHeec,ch:colorHexHeec,
    lx:1545,gw:41,gty:1288,pty:1447,gl:geneLegendHeec,gBox:[[1302,1324],[1325,1354],[1355,1398]],
    barT:1460,barB:1577,pmax:0.0045,pl:pvalLegendHeec});
  el("circle","stray-blue-dot",{cx:1728,cy:1135,r:1,fill:"#2222dd"},p);
})();

/* ---------- Panel F ---------- */
function volcano(g,c){
  const xF=v=>c.x0+v*c.xu, yF=v=>2292-20.1*v, L=xF(-5.5), R=xF(5.5), T=yF(21), B=2311.5;
  const up="#d5643a",gray="#9a9a9a",down="#93c1da";
  const clipId="clip"+c.id;
  const cp=el("clipPath","plot-clip",{id:clipId},$("defs"));
  el("rect","plot-clip-rect",{x:L,y:T,width:R-L,height:B-T},cp);
  el("rect","plot-background",{x:L,y:T,width:R-L,height:B-T,fill:"#fff"},g);
  for(let v=-2.5;v<=20;v+=2.5)line(g,"gridline-y",L,yF(v),R,yF(v),"#f0f0f0",v%5===0?2:1);
  for(let v=-5;v<=5;v+=1.25)line(g,"gridline-x",xF(v),T,xF(v),B,"#f2f2f2",(v%2.5===0)?1.6:1);
  const pts=el("g","points",{"clip-path":"url(#"+clipId+")"},g);
  const dot=(arr,col,nm)=>arr.forEach(q=>el("circle",nm,{cx:xF(q[0]),cy:yF(q[1]),r:3.3,fill:col,"fill-opacity":.92},pts));
  const area=(xs,tops,base,col,nm,op)=>{
    const pp=xs.map((x,i)=>xF(x)+","+yF(tops[i])).concat([xF(xs[xs.length-1])+","+yF(base),xF(xs[0])+","+yF(base)]);
    el("polygon",nm,{points:pp.join(" "),fill:col,"fill-opacity":op,stroke:col,"stroke-opacity":op,"stroke-width":5,"stroke-linejoin":"round"},pts);
  };
  const band=(lev,a,xEdge,nm)=>{
    const pp=lev.map((y,i)=>xF(a[i])+","+yF(y)).concat(lev.slice().reverse().map(y=>xF(xEdge)+","+yF(y)));
    el("polygon",nm,{points:pp.join(" "),fill:gray,stroke:gray,"stroke-width":5,"stroke-linejoin":"round"},pts);
  };
  band(c.gl,c.gL,-.58,"dense-nodiff-left");
  band(c.gl,c.gR,.58,"dense-nodiff-right");
  dot(c.grayPts,gray,"point-nodiff");
  dot(c.topG.map(v=>[v,21]),gray,"point-nodiff-clipped");
  area(c.sdX,c.sdT,3,down,"semi-dense-sig-down",.16);
  area(c.suX,c.suT,3,up,"semi-dense-sig-up",.16);
  area(c.dnX,c.dnT,3,down,"dense-sig-down",1);
  area(c.upX,c.upT,3,up,"dense-sig-up",1);
  dot(c.downPts,down,"point-sig-down");
  dot(c.fillD,down,"point-sig-down-fill");
  dot(c.upPts,up,"point-sig-up");
  dot(c.fillU,up,"point-sig-up-fill");
  dot(c.topD.map(v=>[v,21]),down,"point-sig-down-clipped");
  dot(c.topU.map(v=>[v,21]),up,"point-sig-up-clipped");
  dot(c.edgeD.map(v=>[-5.5,v]),down,"point-sig-down-edge");
  dot(c.edgeU.map(v=>[5.5,v]),up,"point-sig-up-edge");
  line(g,"threshold-fc-low",xF(-.58),T,xF(-.58),B,"#333",1.6,"5 4");
  line(g,"threshold-fc-high",xF(.58),T,xF(.58),B,"#333",1.6,"5 4");
  line(g,"threshold-pvalue",L,yF(1.3),R,yF(1.3),"#333",1.6,"4 3.5");
  el("rect","plot-frame",{x:L,y:T,width:R-L,height:B-T,fill:"none",stroke:"#555","stroke-width":1.6},g);
  volcanoXTicks.forEach(v=>txt(g,"x-tick-"+v,v.toFixed(1),xF(v),2331,{size:18,anchor:"middle",fill:"#333",sx:.8}));
  volcanoYTicks.forEach(v=>txt(g,"y-tick-"+v,String(v),L-3,yF(v)+6,{size:18,anchor:"end",fill:"#333",sx:.8}));
  txt(g,"x-axis-title","log2(FC)",c.x0,2358,{size:17,weight:"bold",anchor:"middle",len:62});
  txt(g,"y-axis-title","-log10(pVal)",c.ytx,2091,{size:15,weight:"bold",anchor:"middle",rot:-90,len:92});
  txt(g,"chart-title",c.title,c.x0,1822,{size:22,weight:"bold",anchor:"middle",len:c.tw});
  txt(g,"legend-title","Significant",c.lx,2046,{size:16,weight:"bold",len:79});
  [[c.lab[0],up,2081,79],[c.lab[1],gray,2109,73],[c.lab[2],down,2137,95]].forEach(r=>{
    el("circle","legend-dot-"+slug(r[0]),{cx:c.lx+13,cy:r[2],r:3.2,fill:r[1]},g);
    txt(g,"legend-label-"+slug(r[0]),r[0],c.lx+35,r[2]+5,{size:13,fill:"#333",len:r[3]});
  });
  c.ann.forEach(a=>{
    line(g,"annotation-leader-"+slug(a[0]),a[3],a[4],a[5],a[6],"#222",1);
    txt(g,"annotation-"+slug(a[0]),a[0],a[1],a[2]+5,{size:13,anchor:"middle",fill:"#222",sx:.88});
  });
}
(function(){
  const p=$("panelF");
  panelLetter(p,"F",187,1826,.95);
  volcano(el("g","volcano-eca109",{},p),{id:"F1",title:"DMR: ECA109_Zn vs ECA109",tw:293,x0:487,xu:37.9,ytx:241,lx:710,
    lab:["Sig_Up (8226)","NoDiff (5084)","Sig_Down (6064)"],
    upPts:pointsUpEca,downPts:pointsDownEca,grayPts:pointsGrayEca,fillD:fillDownEca,fillU:fillUpEca,edgeD:edgeDownEca,edgeU:edgeUpEca,topD:topDownEca,topG:topGrayEca,topU:topUpEca,
    dnX:denseDownXEca,dnT:denseDownTopEca,upX:denseUpXEca,upT:denseUpTopEca,sdX:semiDownXEca,sdT:semiDownTopEca,suX:semiUpXEca,suT:semiUpTopEca,gl:denseGrayLevelsEca,gL:denseGrayLeftEca,gR:denseGrayRightEca,
    ann:[["MT1H",361,2088,378,2072,369,2082],["MT1E",447,2224,464,2207,455,2216]]});
  volcano(el("g","volcano-heec",{},p),{id:"F2",title:"DMR: HEEC_Zn vs HEEC",tw:249,x0:1335.5,xu:37.9,ytx:1091,lx:1559,
    lab:["Sig_Up (4357)","NoDiff (4306)","Sig_Down (5019)"],
    upPts:pointsUpHeec,downPts:pointsDownHeec,grayPts:pointsGrayHeec,fillD:fillDownHeec,fillU:fillUpHeec,edgeD:edgeDownHeec,edgeU:edgeUpHeec,topD:topDownHeec,topG:topGrayHeec,topU:topUpHeec,
    dnX:denseDownXHeec,dnT:denseDownTopHeec,upX:denseUpXHeec,upT:denseUpTopHeec,sdX:semiDownXHeec,sdT:semiDownTopHeec,suX:semiUpXHeec,suT:semiUpTopHeec,gl:denseGrayLevelsHeec,gL:denseGrayLeftHeec,gR:denseGrayRightHeec,
    ann:[["MT1H",1327,2155,1319,2162,1312,2173]]});
})();
</script>
</body>
</html>
